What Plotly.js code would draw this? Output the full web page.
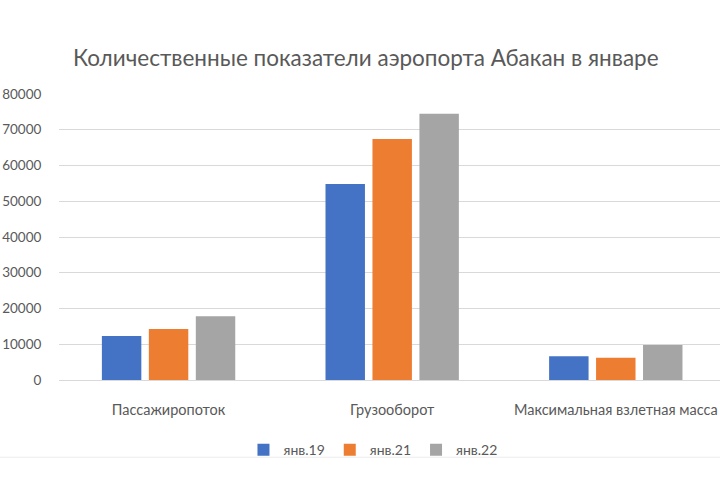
<!DOCTYPE html>
<html>
<head>
<meta charset="utf-8">
<script src="https://cdn.plot.ly/plotly-3.0.1.min.js"></script>
<style>
  html, body { margin: 0; padding: 0; background: #fff; }
  #chart { width: 720px; height: 480px; }
</style>
</head>
<body>
<div id="chart"></div>
<script>
// categories and series
const categories = ['Пассажиропоток', 'Грузооборот', 'Максимальная взлетная масса'];
const seriesNames = ['янв.19', 'янв.21', 'янв.22'];
const jan19 = [12300, 54800, 6650];
const jan21 = [14300, 67400, 6200];
const jan22 = [17850, 74500, 9800];
const colors = ['#4472C4', '#ED7D31', '#A5A5A5'];

const seriesValues = [jan19, jan21, jan22];

const traces = seriesValues.map((vals, i) => ({
  type: 'bar',
  name: seriesNames[i],
  x: categories,
  y: vals,
  marker: { color: colors[i] },
  hoverinfo: 'x+y+name'
}));

const fontFamily = 'Lato, "Open Sans", sans-serif';

const layout = {
  width: 720,
  height: 480,
  paper_bgcolor: '#ffffff',
  plot_bgcolor: '#ffffff',
  title: {
    text: 'Количественные показатели аэропорта Абакан в январе',
    font: { family: fontFamily, size: 22.5, color: '#595959' },
    x: 0.508,
    xanchor: 'center',
    y: 0.879,
    yanchor: 'middle'
  },
  barmode: 'group',
  bargap: 0.37,
  bargroupgap: 0.16,
  margin: { l: 59, r: 0, t: 94, b: 100 },
  xaxis: {
    range: [-0.49, 2.466],
    showgrid: false,
    showline: false,
    zeroline: false,
    ticks: 'outside',
    ticklen: 17,
    tickcolor: 'rgba(0,0,0,0)',
    tickfont: { family: fontFamily, size: 14.5, color: '#595959' },
    automargin: false
  },
  yaxis: {
    range: [0, 80000],
    dtick: 10000,
    showgrid: true,
    gridcolor: '#d9d9d9',
    gridwidth: 1,
    zeroline: true,
    zerolinecolor: '#d9d9d9',
    showline: false,
    tickformat: 'd',
    ticks: 'outside',
    ticklen: 14,
    tickcolor: 'rgba(0,0,0,0)',
    tickfont: { family: fontFamily, size: 13.5, color: '#595959' },
    automargin: false
  },
  showlegend: true,
  legend: {
    orientation: 'h',
    x: 0.475,
    xanchor: 'center',
    y: -0.245,
    yanchor: 'middle',
    bgcolor: 'rgba(0,0,0,0)',
    font: { family: fontFamily, size: 14, color: '#595959' },
    itemwidth: 30,
    traceorder: 'normal'
  },
  shapes: [
    // faint frame edge of the original chart area
    { type: 'line', xref: 'paper', yref: 'paper', x0: -0.1, x1: 1.02, y0: -0.27, y1: -0.27,
      line: { color: '#ececec', width: 1 } }
  ]
};

Plotly.newPlot('chart', traces, layout, { displayModeBar: false, staticPlot: true });
</script>
</body>
</html>
